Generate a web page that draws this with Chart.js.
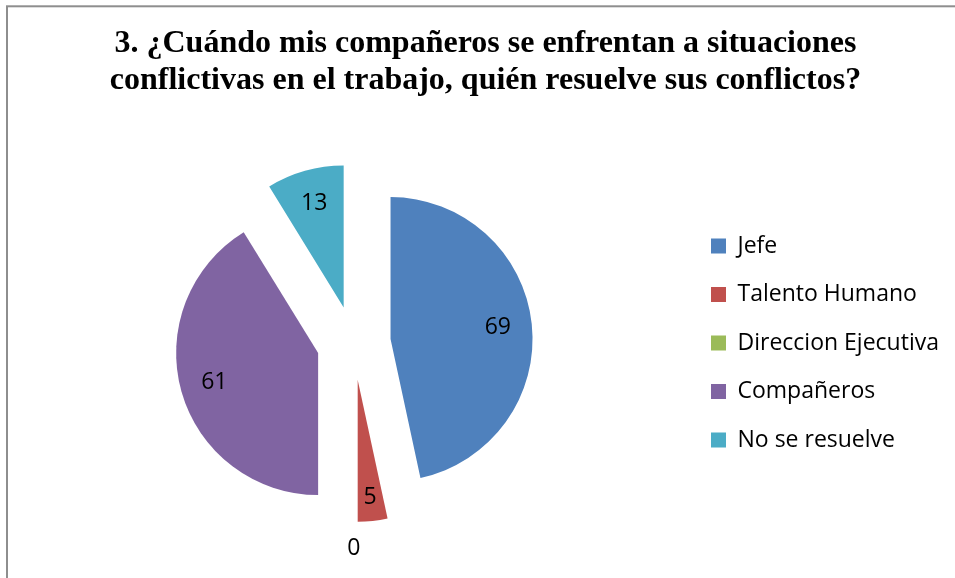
<!DOCTYPE html>
<html>
<head>
<meta charset="utf-8">
<script src="https://cdn.jsdelivr.net/npm/chart.js@4.4.1/dist/chart.umd.min.js"></script>
<style>
  html, body { margin: 0; padding: 0; background: #fff; }
  canvas { display: block; }
</style>
</head>
<body>
<canvas id="pie" width="955" height="578"></canvas>
<script>
const categories = ['Jefe', 'Talento Humano', 'Direccion Ejecutiva', 'Compañeros', 'No se resuelve'];
const values = [69, 5, 0, 61, 13];
const colors = ['#4F81BD', '#C0504D', '#9BBB59', '#8064A2', '#4BACC6'];
const titleLines = [
  '3. ¿Cuándo mis compañeros se enfrentan a situaciones',
  'conflictivas en el trabajo, quién resuelve sus conflictos?'
];

const labelFont = { family: 'Open Sans', size: 23 };
const explode = 37;   // how far every slice is pulled out, px
const radius = 142;
const legendPad = 48.5 - labelFont.size;
const boxSize = 15;

// legend width is measured so the pie centre lands where the reference has it
const m = document.createElement('canvas').getContext('2d');
m.font = `${labelFont.size}px "${labelFont.family}"`;
const widest = Math.max(...categories.map(c => m.measureText(c).width));
const legendW = legendPad + boxSize + labelFont.size / 2 + widest + 10;
const padRight = Math.max(0, 955 - 685.5 - legendW);

const frame = {
  id: 'frame',
  beforeDraw(chart) {
    const { ctx } = chart;
    ctx.save();
    ctx.strokeStyle = '#8E8E8E';
    ctx.lineWidth = 2;
    ctx.strokeRect(7, 6.3, 1100, 1000);
    ctx.restore();
  }
};

// Chart.js' own offset also grows thin slices, so pull every arc out by the same distance here
const explodeArcs = {
  id: 'explodeArcs',
  beforeDatasetDraw(chart, args) {
    const { ctx } = chart;
    args.meta.data.forEach(arc => {
      const { startAngle, endAngle } = arc.getProps(['startAngle', 'endAngle'], true);
      const mid = (startAngle + endAngle) / 2;
      ctx.save();
      ctx.translate(Math.cos(mid) * explode, Math.sin(mid) * explode);
      arc.draw(ctx, chart.chartArea);
      ctx.restore();
    });
    return false;
  }
};

const sliceLabels = {
  id: 'sliceLabels',
  afterDatasetsDraw(chart) {
    const { ctx } = chart;
    const meta = chart.getDatasetMeta(0);
    ctx.save();
    ctx.font = `${labelFont.size}px "${labelFont.family}"`;
    ctx.fillStyle = '#000';
    ctx.textAlign = 'center';
    ctx.textBaseline = 'middle';
    meta.data.forEach((arc, i) => {
      const { x, y, startAngle, endAngle, outerRadius } =
        arc.getProps(['x', 'y', 'startAngle', 'endAngle', 'outerRadius'], true);
      const mid = (startAngle + endAngle) / 2;
      let d = explode + outerRadius * ((endAngle - startAngle) < 0.4 ? 0.83 : 0.76);
      if (values[i] === 0) d = explode + outerRadius + 26;
      ctx.fillText(String(values[i]), x + Math.cos(mid) * d, y + Math.sin(mid) * d);
    });
    ctx.restore();
  }
};

new Chart(document.getElementById('pie').getContext('2d'), {
  type: 'pie',
  data: {
    labels: categories,
    datasets: [{
      data: values,
      backgroundColor: colors,
      borderWidth: 0,
      offset: 0
    }]
  },
  options: {
    responsive: false,
    animation: false,
    events: [],
    radius: radius,
    layout: { padding: { top: 0, left: 22, right: padRight, bottom: 0 } },
    plugins: {
      tooltip: { enabled: false },
      title: {
        display: true,
        text: titleLines,
        color: '#000',
        font: { family: 'Liberation Serif', size: 32, weight: 'bold', lineHeight: 37 / 32 },
        padding: { top: 25.7, bottom: 8.3 }
      },
      legend: {
        position: 'right',
        fullSize: false,
        labels: {
          color: '#000',
          font: labelFont,
          boxWidth: boxSize,
          boxHeight: boxSize,
          padding: legendPad
        }
      }
    }
  },
  plugins: [frame, explodeArcs, sliceLabels]
});
</script>
</body>
</html>
